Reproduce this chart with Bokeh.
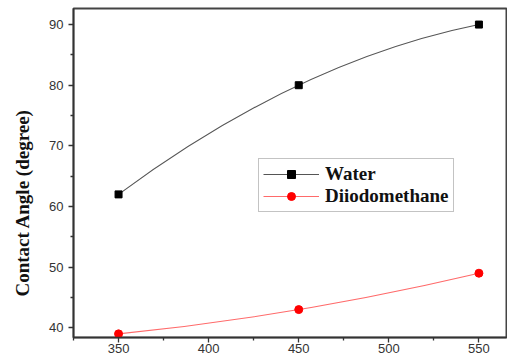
from bokeh.plotting import figure
from bokeh.models import ColumnDataSource, FixedTicker, Legend, LegendItem, Range1d, Title
from bokeh.embed import file_html
from bokeh.resources import INLINE

# ---- data ----
wavelength = [350, 450, 550]
water = [62, 80, 90]
diiodomethane = [39, 43, 49]
series_names = ["Water", "Diiodomethane"]
x_ticks = [350, 400, 450, 500, 550]
x_minor = [325, 375, 425, 475, 525]
y_ticks = [40, 50, 60, 70, 80, 90]
y_minor = [45, 55, 65, 75, 85]
y_label = "Contact Angle (degree)"

p = figure(width=507, height=355, output_backend="svg", toolbar_location=None,
           x_range=Range1d(325, 565.3), y_range=Range1d(38.4, 92.65),
           min_border_left=72, min_border_right=1, min_border_top=8, min_border_bottom=5)
p.grid.visible = False
p.background_fill_color = "white"
p.border_fill_color = "white"
p.outline_line_color = "#444444"
p.outline_line_width = 2


def curve_source(xs, ys):
    # quadratic Bezier through the three data points (control point from data)
    return ColumnDataSource(dict(x0=[xs[0]], y0=[ys[0]], x1=[xs[2]], y1=[ys[2]],
                                 cx=[xs[1]], cy=[2 * ys[1] - (ys[0] + ys[2]) / 2]))


w_line = p.quadratic(x0="x0", y0="y0", x1="x1", y1="y1", cx="cx", cy="cy",
                     source=curve_source(wavelength, water), line_color="#555555", line_width=1.1)
w_pts = p.scatter(wavelength, water, marker="square", size=7, fill_color="black", line_color="black")

d_line = p.quadratic(x0="x0", y0="y0", x1="x1", y1="y1", cx="cx", cy="cy",
                     source=curve_source(wavelength, diiodomethane), line_color="#ff6a6a", line_width=1.1)
d_pts = p.scatter(wavelength, diiodomethane, marker="circle", size=8, fill_color="#ff0000", line_color="#ff0000")

legend = Legend(items=[LegendItem(label=series_names[0], renderers=[w_line, w_pts]),
                       LegendItem(label=series_names[1], renderers=[d_line, d_pts])],
                location=(185, 125))
legend.label_text_font = "Liberation Serif"
legend.label_text_font_style = "bold"
legend.label_text_font_size = "19px"
legend.label_text_color = "#111111"
legend.border_line_color = "#888888"
legend.border_line_width = 1.2
legend.glyph_width = 56
legend.glyph_height = 20
legend.label_height = 20
legend.label_standoff = 6
legend.padding = 4
legend.spacing = 0
legend.margin = 0
p.add_layout(legend)

for ax in (p.xaxis[0], p.yaxis[0]):
    ax.axis_line_color = "#333333"
    ax.axis_line_width = 1.5
    ax.major_tick_line_color = "#333333"
    ax.minor_tick_line_color = "#333333"
    ax.major_tick_line_width = 1.3
    ax.minor_tick_line_width = 1.3
    ax.major_tick_out = 5
    ax.major_tick_in = 0
    ax.minor_tick_out = 3
    ax.minor_tick_in = 0
    ax.major_label_text_font = "Liberation Sans"
    ax.major_label_text_font_size = "13px"
    ax.major_label_text_color = "#333333"

p.xaxis[0].ticker = FixedTicker(ticks=x_ticks, minor_ticks=x_minor)
p.yaxis[0].ticker = FixedTicker(ticks=y_ticks, minor_ticks=y_minor)
p.xaxis[0].major_label_standoff = 1
p.yaxis[0].major_label_standoff = 5

# y-axis title as a left-side title, anchored near the bottom like the reference
p.add_layout(Title(text=y_label, align="left", offset=41, standoff=23, vertical_align="top",
                   text_font="Liberation Serif", text_font_style="bold",
                   text_font_size="19px", text_color="#111111"), "left")

open("out.html", "w").write(file_html(p, INLINE))
